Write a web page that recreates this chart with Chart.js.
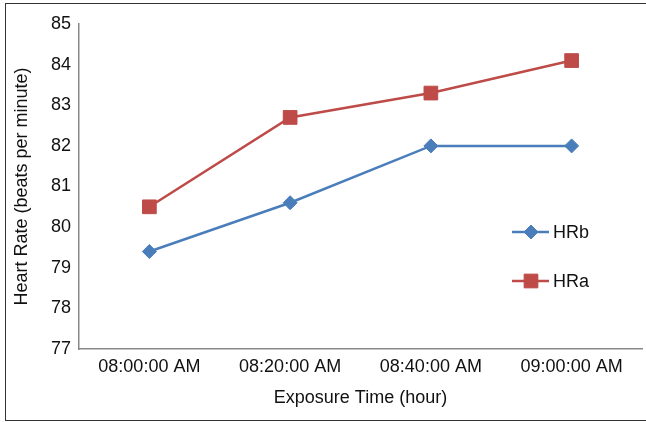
<!DOCTYPE html>
<html>
<head>
<meta charset="utf-8">
<script src="https://cdn.jsdelivr.net/npm/chart.js@4"></script>
<style>
  html, body { margin: 0; padding: 0; background: #fff; }
  .wrap { position: relative; width: 646px; height: 422px; overflow: hidden; }
  .frame {
    position: absolute; left: 5px; top: 3px; width: 660px; height: 416px;
    border: 1.5px solid #333; pointer-events: none;
  }
  canvas { position: absolute; left: 0; top: 0; }
</style>
</head>
<body>
<div class="wrap">
  <canvas id="hrChart" width="646" height="422"></canvas>
  <div class="frame"></div>
</div>
<script>
// exposure times and heart rate readings
const times = ['08:00:00 AM', '08:20:00 AM', '08:40:00 AM', '09:00:00 AM'];
const hrBefore = [79.4, 80.6, 82, 82];
const hrAfter = [80.5, 82.7, 83.3, 84.1];
const yTicks = [77, 78, 79, 80, 81, 82, 83, 84, 85];

const FONT = 'Liberation Sans, Arial, sans-serif';

// legend drawn inside the plot, to the right like the original
const sideLegend = {
  id: 'sideLegend',
  afterDraw(chart) {
    const { ctx } = chart;
    const rows = [232, 281];
    ctx.save();
    chart.data.datasets.forEach((ds, i) => {
      const y = rows[i];
      ctx.strokeStyle = ds.borderColor;
      ctx.lineWidth = ds.borderWidth;
      ctx.beginPath();
      ctx.moveTo(512, y);
      ctx.lineTo(549, y);
      ctx.stroke();
      ctx.fillStyle = ds.pointBackgroundColor;
      ctx.strokeStyle = ds.pointBackgroundColor;
      ctx.lineWidth = 1;
      Chart.helpers.drawPoint(ctx, { pointStyle: ds.pointStyle, radius: ds.pointRadius, borderWidth: 1, rotation: 0 }, 531, y);
      ctx.fillStyle = '#111';
      ctx.font = '18px ' + FONT;
      ctx.textAlign = 'left';
      ctx.textBaseline = 'middle';
      ctx.fillText(ds.label, 553, y + 1);
    });
    ctx.restore();
  }
};

new Chart(document.getElementById('hrChart'), {
  type: 'line',
  data: {
    labels: times,
    datasets: [
      {
        label: 'HRb',
        data: hrBefore,
        borderColor: '#4A7EBB',
        borderWidth: 2.5,
        pointStyle: 'rectRot',
        pointRadius: 7,
        pointBackgroundColor: '#4A7EBB',
        pointBorderColor: '#4A7EBB',
        pointBorderWidth: 1,
        tension: 0
      },
      {
        label: 'HRa',
        data: hrAfter,
        borderColor: '#BE4B48',
        borderWidth: 2.5,
        pointStyle: 'rect',
        pointRadius: 9.7,
        pointBackgroundColor: '#BE4B48',
        pointBorderColor: '#BE4B48',
        pointBorderWidth: 1,
        tension: 0
      }
    ]
  },
  options: {
    responsive: false,
    animation: false,
    layout: { autoPadding: false, padding: { top: 24, right: 4, left: 0, bottom: 0 } },
    plugins: {
      legend: { display: false },
      tooltip: { enabled: false }
    },
    scales: {
      x: {
        offset: true,
        grid: { display: false, drawTicks: false },
        border: { display: true, color: '#888', width: 1.5 },
        ticks: { color: '#111', font: { family: FONT, size: 18 }, padding: 7, maxRotation: 0, autoSkip: false },
        title: {
          display: true,
          text: 'Exposure Time (hour)',
          color: '#111',
          font: { family: FONT, size: 18 },
          padding: { top: 0, bottom: 13 }
        },
        afterFit(scale) { scale.height = 73; }
      },
      y: {
        min: yTicks[0],
        max: yTicks[yTicks.length - 1],
        afterBuildTicks(scale) { scale.ticks = yTicks.map(v => ({ value: v })); },
        grid: { display: false, drawTicks: false },
        border: { display: true, color: '#888', width: 1.5 },
        ticks: { color: '#111', font: { family: FONT, size: 18 }, padding: 8 },
        title: {
          display: true,
          text: 'Heart Rate (beats per minute)',
          color: '#111',
          font: { family: FONT, size: 18 },
          padding: { top: 11, bottom: 0 }
        },
        afterFit(scale) { scale.width = 79; }
      }
    }
  },
  plugins: [sideLegend]
});
</script>
</body>
</html>
